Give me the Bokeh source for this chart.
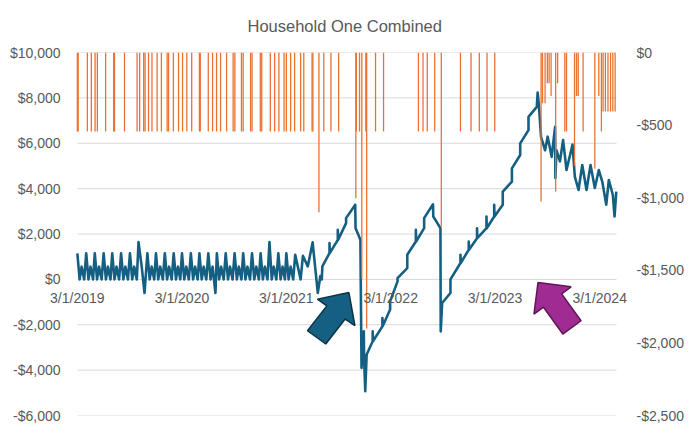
import pandas as pd
from bokeh.plotting import figure
from bokeh.models import Range1d, LinearAxis, FixedTicker, Title, ColumnDataSource
from bokeh.embed import file_html
from bokeh.resources import INLINE

title_text = "Household One Combined"

x_tick_dates = ["2019-03-01", "2020-03-01", "2021-03-01", "2022-03-01", "2023-03-01", "2024-03-01"]
x_tick_labels = ["3/1/2019", "3/1/2020", "3/1/2021", "3/1/2022", "3/1/2023", "3/1/2024"]

left_ticks = [-6000, -4000, -2000, 0, 2000, 4000, 6000, 8000, 10000]
left_tick_labels = ["-$6,000", "-$4,000", "-$2,000", "$0", "$2,000", "$4,000", "$6,000", "$8,000", "$10,000"]
right_ticks = [-2500, -2000, -1500, -1000, -500, 0]
right_tick_labels = ["-$2,500", "-$2,000", "-$1,500", "-$1,000", "-$500", "$0"]

# balance line (primary axis)
line_dates = [
    "2019-03-01", "2019-03-09", "2019-03-16", "2019-03-25",
    "2019-04-01", "2019-04-09", "2019-04-16", "2019-04-25",
    "2019-05-01", "2019-05-09", "2019-05-16", "2019-05-25",
    "2019-06-01", "2019-06-09", "2019-06-16", "2019-06-25",
    "2019-07-01", "2019-07-09", "2019-07-16", "2019-07-25",
    "2019-08-01", "2019-08-09", "2019-08-16", "2019-08-25",
    "2019-09-01", "2019-09-09", "2019-09-16", "2019-09-25",
    "2019-10-01", "2019-10-12", "2019-10-22",
    "2019-11-01", "2019-11-09", "2019-11-16", "2019-11-25",
    "2019-12-01", "2019-12-09", "2019-12-16", "2019-12-25",
    "2020-01-01", "2020-01-09", "2020-01-16", "2020-01-25",
    "2020-02-01", "2020-02-09", "2020-02-16", "2020-02-24",
    "2020-03-01", "2020-03-09", "2020-03-16", "2020-03-25",
    "2020-04-01", "2020-04-09", "2020-04-16", "2020-04-25",
    "2020-05-01", "2020-05-09", "2020-05-16", "2020-05-25",
    "2020-06-01", "2020-06-09", "2020-06-16", "2020-06-26",
    "2020-07-01", "2020-07-09", "2020-07-16", "2020-07-25",
    "2020-08-01", "2020-08-09", "2020-08-16", "2020-08-25",
    "2020-09-01", "2020-09-09", "2020-09-16", "2020-09-25",
    "2020-10-01", "2020-10-09", "2020-10-16", "2020-10-25",
    "2020-11-01", "2020-11-09", "2020-11-16", "2020-11-25",
    "2020-12-01", "2020-12-09", "2020-12-16", "2020-12-25",
    "2021-01-01", "2021-01-09", "2021-01-16", "2021-01-25",
    "2021-02-01", "2021-02-09", "2021-02-16", "2021-02-24",
    "2021-03-01", "2021-03-09", "2021-03-16", "2021-03-25",
    "2021-04-01", "2021-04-20", "2021-04-28", "2021-05-15",
    "2021-06-01", "2021-06-19", "2021-06-28", "2021-07-03", "2021-07-05",
    "2021-07-30", "2021-07-30", "2021-07-31",
    "2021-08-28", "2021-08-28", "2021-08-29",
    "2021-09-26", "2021-09-26",
    "2021-10-28", "2021-10-29", "2021-11-15", "2021-11-19", "2021-11-27",
    "2021-11-28", "2021-12-02", "2021-12-07",
    "2021-12-28", "2021-12-28", "2021-12-29",
    "2022-01-31", "2022-01-31", "2022-02-01",
    "2022-02-27", "2022-02-27",
    "2022-03-25", "2022-03-25",
    "2022-04-28", "2022-04-28",
    "2022-05-28", "2022-05-28", "2022-05-29",
    "2022-06-26", "2022-06-26",
    "2022-07-27", "2022-07-28", "2022-08-22", "2022-08-23", "2022-08-28",
    "2022-09-26", "2022-09-26",
    "2022-10-31", "2022-10-31", "2022-11-01",
    "2022-11-29", "2022-11-29", "2022-11-30",
    "2022-12-28", "2022-12-28", "2022-12-29",
    "2023-01-30", "2023-01-30", "2023-01-31",
    "2023-02-26", "2023-02-26", "2023-02-27",
    "2023-03-28", "2023-03-28",
    "2023-04-29", "2023-04-29",
    "2023-05-28", "2023-05-28",
    "2023-06-26", "2023-06-26",
    "2023-07-25", "2023-07-28", "2023-08-01", "2023-08-09", "2023-08-23",
    "2023-09-01", "2023-09-15", "2023-09-27", "2023-09-28", "2023-10-02",
    "2023-10-14", "2023-10-25", "2023-11-06", "2023-11-27", "2023-12-05",
    "2023-12-18", "2023-12-31", "2024-01-15", "2024-01-29", "2024-02-13",
    "2024-02-27", "2024-03-10", "2024-03-24", "2024-04-02", "2024-04-16",
    "2024-04-22", "2024-04-28",
]
line_values = [
    1150, 0, 560, 0,
    1150, 0, 560, 0,
    1150, 0, 560, 0,
    1150, 0, 560, 0,
    1150, 0, 560, 0,
    1150, 0, 560, 0,
    1150, 0, 560, 0,
    1640, 570, -600,
    1150, 0, 560, 0,
    1150, 0, 560, 0,
    1150, 0, 560, 0,
    1150, 0, 560, 0,
    1150, 0, 560, 0,
    1150, 0, 560, 0,
    1150, 0, 560, 0,
    1150, 0, 560, -600,
    1150, 0, 560, 0,
    1150, 0, 560, 0,
    1150, 0, 560, 0,
    1150, 0, 560, 0,
    1150, 0, 560, 0,
    1150, 0, 560, 0,
    1640, 0, 560, 0,
    1150, 0, 560, 0,
    1150, 0, 560, 0,
    1086, 0, 1040, 570,
    1630, -600, 150, 0, 570,
    1160, 1600, 1160,
    1740, 2180, 1740,
    2480, 2700,
    3290, 2260, 1750, -3900, -2290,
    -3500, -4930, -3310,
    -2730, -2290, -2730,
    -2070, -1700, -2070,
    -1330, -970,
    -90, 57,
    500, 1086,
    1670, 2180, 1670,
    2260, 2700,
    3310, 2770, 2260, -2290, -1040,
    -600, 0,
    720, 1086, 720,
    1305, 1670, 1305,
    1816, 2255, 1816,
    2255, 2770, 2255,
    2770, 3284, 2770,
    3284, 3868,
    4308, 4894,
    5480, 5994,
    6580, 7166,
    7605, 8230, 7720, 6270, 5690,
    6290, 5400, 6720, 4470, 5690,
    5200, 6140, 4820, 5940, 4530,
    3940, 5040, 3940, 5040, 4030,
    4820, 4310, 3290, 4380, 3720,
    2770, 3870,
]

# withdrawals (secondary axis)
bar_dates = [
    "2019-03-01", "2019-03-04", "2019-04-05", "2019-04-19", "2019-05-02", "2019-05-10",
    "2019-06-08", "2019-07-06", "2019-07-09", "2019-08-13", "2019-09-26", "2019-10-05",
    "2019-10-19", "2019-10-24", "2019-11-05", "2019-11-17", "2019-12-05", "2019-12-20",
    "2020-01-09", "2020-01-14", "2020-01-31", "2020-02-18", "2020-03-03", "2020-03-18",
    "2020-04-04", "2020-05-01", "2020-05-04", "2020-06-01", "2020-06-16", "2020-06-30",
    "2020-07-14", "2020-08-04", "2020-08-27", "2020-09-02", "2020-09-25", "2020-10-01",
    "2020-10-27", "2020-11-01", "2020-11-30", "2020-12-05", "2021-01-04", "2021-01-19",
    "2021-02-03", "2021-02-21", "2021-03-01", "2021-03-16", "2021-03-30", "2021-04-20",
    "2021-05-01", "2021-05-30", "2021-06-02", "2021-06-23", "2021-07-10", "2021-08-04",
    "2021-08-31", "2021-10-30", "2021-11-01", "2021-11-12", "2021-11-20", "2021-12-04",
    "2021-12-07", "2022-01-07", "2022-02-04", "2022-06-06", "2022-06-22", "2022-07-07",
    "2022-08-02", "2022-08-25", "2022-10-31", "2022-12-07", "2023-01-05", "2023-02-01",
    "2023-02-28", "2023-08-09", "2023-08-14", "2023-08-23", "2023-08-31", "2023-09-06",
    "2023-09-13", "2023-09-29", "2023-10-06", "2023-10-31", "2023-11-06", "2023-12-04",
    "2023-12-11", "2023-12-17", "2024-01-03", "2024-02-13", "2024-02-27", "2024-03-07",
    "2024-03-13", "2024-03-21", "2024-03-30", "2024-04-08", "2024-04-16", "2024-04-24",
]
bar_values = [
    -544, -544, -544, -544, -544, -544,
    -544, -544, -544, -544, -544, -544,
    -544, -544, -544, -544, -544, -544,
    -544, -544, -544, -544, -544, -544,
    -544, -544, -544, -544, -544, -544,
    -544, -544, -544, -544, -544, -544,
    -544, -544, -544, -544, -544, -544,
    -544, -544, -544, -544, -544, -544,
    -544, -544, -544, -1100, -544, -544,
    -544, -1003, -544, -544, -1560, -544,
    -1900, -544, -544, -544, -544, -544,
    -544, -1200, -544, -544, -544, -544,
    -544, -1026, -349, -349, -211, -211,
    -300, -957, -211, -544, -544, -780,
    -300, -300, -544, -800, -300, -544,
    -406, -406, -406, -406, -406, -406,
]

LINE_COLOR = "#156082"
BAR_COLOR = "#E97132"
TEXT_COLOR = "#595959"
GRID_COLOR = "#D9D9D9"
FONT = "Liberation Sans"

# data span and its place on the page (pixels of the reference picture)
x_start = pd.Timestamp("2019-03-01")
x_end = pd.Timestamp("2024-04-29")
y_lo, y_hi = -6000, 10000
data_l, data_r, data_t, data_b = 77.0, 619.0, 51.0, 415.0
frame_l, frame_r = 46.0, 630.0   # frame a little wider so edge date labels are not clipped
span_ms = (x_end - x_start).total_seconds() * 1000.0
ms_per_px = span_ms / (data_r - data_l)
view_start = x_start - pd.Timedelta(milliseconds=(data_l - frame_l) * ms_per_px)
view_end = x_end + pd.Timedelta(milliseconds=(frame_r - data_r) * ms_per_px)

p = figure(
    width=686, height=424,
    x_axis_type="datetime", x_axis_location=None,
    x_range=Range1d(view_start, view_end), y_range=Range1d(y_lo, y_hi),
    output_backend="svg", toolbar_location=None,
    min_border_left=int(frame_l), min_border_right=686 - int(frame_r),
    min_border_top=int(data_t), min_border_bottom=424 - int(data_b),
)
p.extra_y_ranges = {"bars": Range1d(-2500, 0)}
p.outline_line_color = None
p.background_fill_color = "white"
p.border_fill_color = "white"

p.add_layout(Title(text=title_text, align="left", vertical_align="top", text_font=FONT,
                   text_font_size="16.5px", text_color=TEXT_COLOR, text_font_style="normal",
                   standoff=32, offset=201), "above")

# horizontal gridlines limited to the data span
p.xgrid.visible = False
p.ygrid.visible = False
p.segment(x0=[x_start] * len(left_ticks), x1=[x_end] * len(left_ticks), y0=left_ticks, y1=left_ticks,
          line_color=GRID_COLOR, line_width=1)

# left axis
ax = p.yaxis[0]
ax.ticker = FixedTicker(ticks=left_ticks)
ax.major_label_overrides = {t: l for t, l in zip(left_ticks, left_tick_labels)}
ax.axis_line_color = None
ax.major_tick_line_color = None
ax.minor_tick_line_color = None
ax.major_label_standoff = -20
ax.major_label_text_font = FONT
ax.major_label_text_font_size = "14px"
ax.major_label_text_color = TEXT_COLOR

# right axis
rax = LinearAxis(y_range_name="bars", ticker=FixedTicker(ticks=right_ticks))
rax.major_label_overrides = {t: l for t, l in zip(right_ticks, right_tick_labels)}
rax.axis_line_color = None
rax.major_tick_line_color = None
rax.minor_tick_line_color = None
rax.major_label_standoff = 3
rax.major_label_text_font = FONT
rax.major_label_text_font_size = "14px"
rax.major_label_text_color = TEXT_COLOR
p.add_layout(rax, "right")

# date axis crossing at the zero line
x_tick_ms = [int(pd.Timestamp(d).value // 10**6) for d in x_tick_dates]
xax = LinearAxis(fixed_location=0, ticker=FixedTicker(ticks=x_tick_ms))
xax.major_label_overrides = {t: l for t, l in zip(x_tick_ms, x_tick_labels)}
xax.axis_line_color = None
xax.major_tick_line_color = None
xax.minor_tick_line_color = None
xax.major_label_standoff = 5
xax.major_label_text_font = FONT
xax.major_label_text_font_size = "14px"
xax.major_label_text_color = TEXT_COLOR
p.add_layout(xax, "below")

# line
line_src = ColumnDataSource(dict(x=pd.to_datetime(line_dates), y=line_values))
p.line("x", "y", source=line_src, line_color=LINE_COLOR, line_width=2.6, line_join="round")

# bars
bar_src = ColumnDataSource(dict(x=pd.to_datetime(bar_dates), top=[0] * len(bar_values), bottom=bar_values))
day_ms = 86400000
p.vbar(x="x", top="top", bottom="bottom", width=4.5 * day_ms, source=bar_src,
       y_range_name="bars", fill_color=BAR_COLOR, line_color=None)


# arrow annotations (shapes given in reference pixel space, mapped into data space)
def to_data(px, py):
    xd = x_start + pd.Timedelta(milliseconds=(px - data_l) * ms_per_px)
    yd = y_hi - (py - data_t) / (data_b - data_t) * (y_hi - y_lo)
    return xd, yd


blue_arrow_px = [(350, 291.7), (356, 325), (346.2, 318.3), (326.7, 343.3), (308.3, 330), (327.8, 305.1), (318.3, 298.3)]
purple_arrow_px = [(540, 281.7), (573.3, 286), (563.8, 293), (583.3, 320), (565, 333.3), (545.6, 306.4), (536, 313.3)]

for pts, fill, edge in [(blue_arrow_px, "#156082", "#0B3346"), (purple_arrow_px, "#A02B93", "#5E1756")]:
    xs, ys = zip(*[to_data(a, b) for a, b in pts])
    p.patch(list(xs), list(ys), fill_color=fill, line_color=edge, line_width=1.5)

open("out.html", "w").write(file_html(p, INLINE))
